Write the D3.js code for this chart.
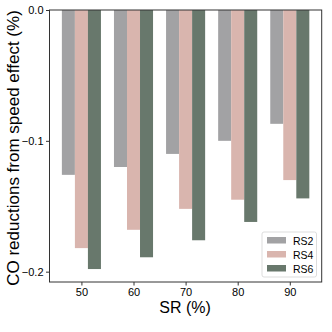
<!DOCTYPE html>
<html><head><meta charset="utf-8">
<script src="https://d3js.org/d3.v7.min.js"></script>
<style>body{margin:0;background:#fff;} svg{display:block;font-family:"Liberation Sans",Arial,sans-serif;}</style>
</head><body>
<svg id="c" width="332" height="332"></svg>
<script>
const categories = ["50","60","70","80","90"];
const seriesNames = ["RS2","RS4","RS6"];
const rs2 = [-0.126,-0.120,-0.110,-0.100,-0.087];
const rs4 = [-0.182,-0.168,-0.152,-0.145,-0.130];
const rs6 = [-0.198,-0.189,-0.176,-0.162,-0.144];
const colors = ["#a2a2a4","#d9b5ae","#68786c"];
const yTicks = [0.0,-0.1,-0.2];

const series = [rs2, rs4, rs6];
const svg = d3.select("#c");
const L=49.5, R=321.7, T=10, B=282;
const barW = 0.25;
const x = d3.scaleLinear().domain([-0.6125, 4.6125]).range([L,R]);
const y = d3.scaleLinear().domain([-0.2079, 0]).range([B,T]);

const g = svg.append("g");
series.forEach((vals,s)=>{
  g.selectAll(null).data(vals).enter().append("rect")
    .attr("x",(d,i)=>x(i+(s-1)*barW-barW/2))
    .attr("width",x(barW)-x(0))
    .attr("y",y(0))
    .attr("height",d=>y(d)-y(0))
    .attr("fill",colors[s]);
});

// axes
const xa = svg.append("g").attr("transform",`translate(0,${B})`)
  .call(d3.axisBottom(x).tickValues(d3.range(categories.length)).tickFormat(i=>categories[i]).tickSize(3.5).tickPadding(2.5));
const ya = svg.append("g").attr("transform",`translate(${L},0)`)
  .call(d3.axisLeft(y).tickValues(yTicks).tickFormat(d=>d===0?"0.0":("\u2212"+Math.abs(d).toFixed(1))).tickSize(3.5).tickPadding(2.5));
[xa,ya].forEach(a=>{a.select(".domain").remove(); a.selectAll("text").attr("font-size",11).attr("fill","#000").attr("font-family","Liberation Sans, Arial, sans-serif"); a.selectAll("line").attr("stroke","#333");});

svg.append("rect").attr("x",L).attr("y",T).attr("width",R-L).attr("height",B-T)
  .attr("fill","none").attr("stroke","#333").attr("stroke-width",1);

svg.append("text").attr("x",185).attr("y",313).attr("text-anchor","middle")
  .attr("font-size",16).text("SR (%)");
svg.append("text").attr("transform",`translate(18.5,148) rotate(-90)`).attr("text-anchor","middle")
  .attr("font-size",17).text("CO reductions from speed effect (%)");

// legend
const lg = svg.append("g");
lg.append("rect").attr("x",262).attr("y",232).attr("width",54.5).attr("height",45).attr("rx",2)
  .attr("fill","#fff").attr("fill-opacity",0.85).attr("stroke","#ddd");
seriesNames.forEach((n,i)=>{
  lg.append("rect").attr("x",267).attr("y",237+i*14).attr("width",19).attr("height",6.5).attr("fill",colors[i]);
  lg.append("text").attr("x",293).attr("y",244.5+i*14).attr("font-size",10.5).text(n);
});
</script>
</body></html>
